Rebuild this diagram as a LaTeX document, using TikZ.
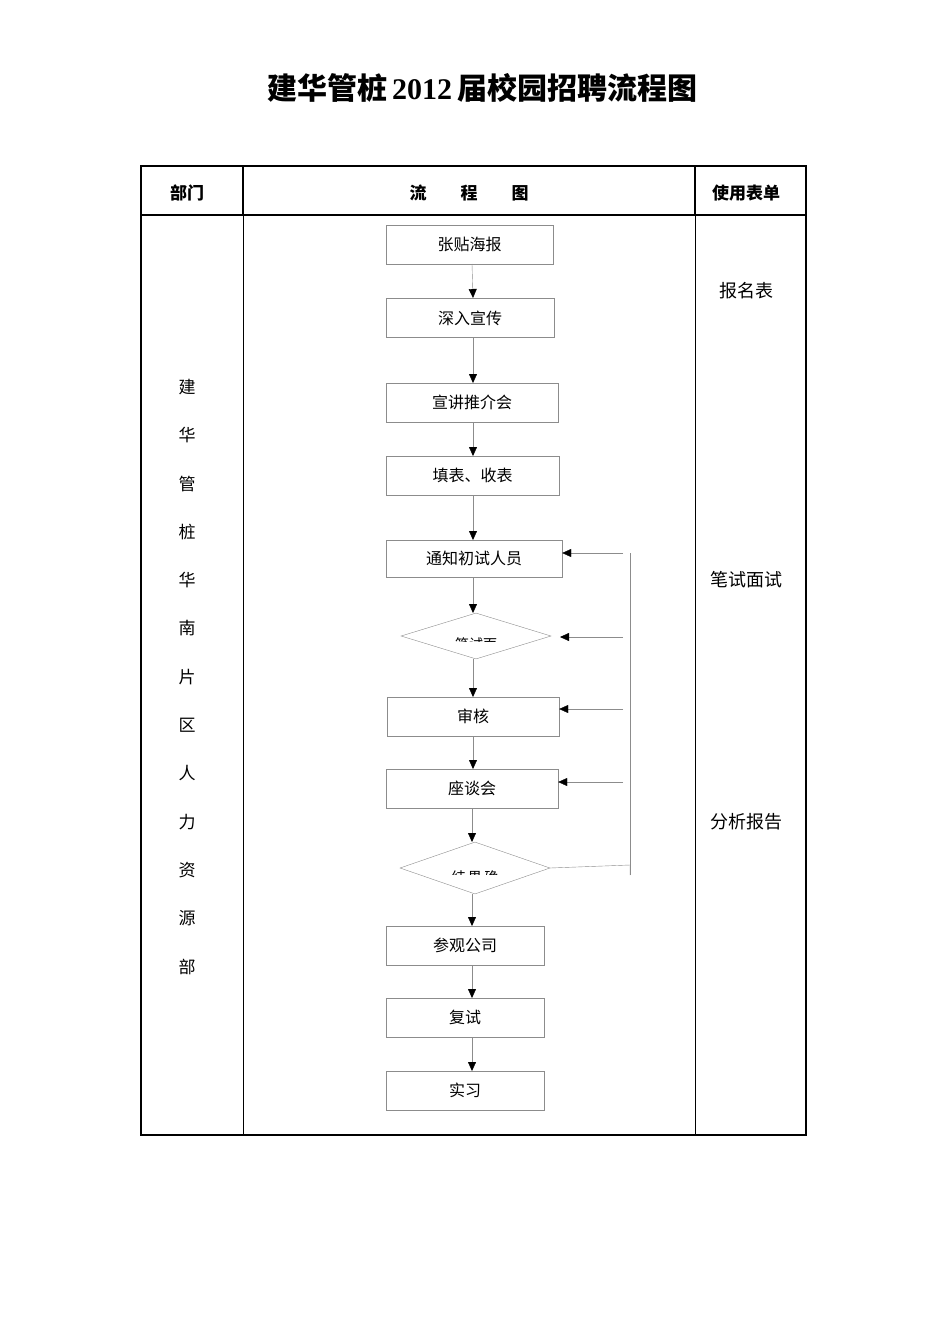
\documentclass[tikz,border=0pt]{standalone}
\usepackage{fontspec}
\setmainfont{Liberation Serif}
\newfontfamily\cjk{Noto Sans CJK SC}
\usetikzlibrary{arrows.meta,positioning,calc,shapes.geometric}

\begin{document}
\begin{tikzpicture}[x=1pt,y=-1pt,font=\cjk\fontsize{16}{18}\selectfont,
  stage/.style={draw=black!45,thin,minimum height=39pt,inner sep=0pt},
  check/.style={draw=black!45,thin,diamond,aspect=3,inner sep=0pt},
  flow/.style={draw=black!45,thin,-{Triangle[black,length=9pt,width=8pt]}},
  frame/.style={line width=1.4pt}]
\useasboundingbox (0,0) rectangle (950,1344);

% title
\node (title) at (482,88) {\fontsize{30}{34}\selectfont\bfseries 建华管桩\,\textrm{\bfseries 2012}\,届校园招聘流程图};

% the table
\draw[frame] (141,166) rectangle (806,1135);
\draw[frame] (141,215) -- (806,215);
\draw[frame] (243,166) -- (243,215);
\draw[frame] (695,166) -- (695,215);
\draw[thin] (243,215) -- (243,1135);
\draw[thin] (695,215) -- (695,1135);
\node (h1) at (187,193) {\fontsize{17}{19}\selectfont\bfseries 部门};
\node (h2) at (469,193) {\fontsize{17}{19}\selectfont\bfseries 流\qquad 程\qquad 图};
\node (h3) at (746,193) {\fontsize{17}{19}\selectfont\bfseries 使用表单};

% department column
\foreach \c [count=\i] in {建,华,管,桩,华,南,片,区,人,力,资,源,部}
  \node at (187,{387+48.3*(\i-1)}) {\fontsize{17}{19}\selectfont\c};

% forms column
\node (f1) at (746,291) {\fontsize{18}{20}\selectfont 报名表};
\node (f2) at (746,580) {\fontsize{18}{20}\selectfont 笔试面试};
\node (f3) at (746,822) {\fontsize{18}{20}\selectfont 分析报告};

% the steps
\node (s1) [stage,minimum width=167pt] at (469.5,244.5) {张贴海报};
\node (s2) [stage,minimum width=168pt] at (470,318) {深入宣传};
\node (s3) [stage,minimum width=172pt] at (472,402.5) {宣讲推介会};
\node (s4) [stage,minimum width=173pt] at (472.5,475.5) {填表、收表};
\node (s5) [stage,minimum width=176pt,minimum height=37pt] at (474,558.5) {通知初试人员};
\node (d1) [check,minimum width=150pt,minimum height=46pt] at (476,636) {};
\node (s6) [stage,minimum width=172pt] at (473,716.5) {审核};
\node (s7) [stage,minimum width=172pt] at (472,788.5) {座谈会};
\node (d2) [check,minimum width=150pt,minimum height=52pt] at (475,868) {};
\node (s8) [stage,minimum width=158pt] at (465,945.5) {参观公司};
\node (s9) [stage,minimum width=158pt] at (465,1017.5) {复试};
\node (s10) [stage,minimum width=158pt] at (465,1090.5) {实习};

% clipped labels in the diamonds
\begin{scope}
  \clip (420,630) rectangle (540,641);
  \node (t1) at (476,644) {\fontsize{14}{16}\selectfont 笔试面};
\end{scope}
\begin{scope}
  \clip (420,862) rectangle (540,874);
  \node (t2) at (475,877) {\fontsize{14}{16}\selectfont 结\,果\,确};
\end{scope}

% main flow
\draw[flow] (472,264) -- (473,298);
\draw[flow] (473,338) -- (473,383);
\draw[flow] (473,422) -- (473,456);
\draw[flow] (473,495) -- (473,540);
\draw[flow] (473,577) -- (473,613);
\draw[flow] (473,659) -- (473,697);
\draw[flow] (473,736) -- (473,769);
\draw[flow] (472,808) -- (472,842);
\draw[flow] (472,894) -- (472,926);
\draw[flow] (472,965) -- (472,998);
\draw[flow] (472,1037) -- (472,1071);

% feedback loop
\coordinate (back) at (630,553);
\draw[draw=black!45,thin] (d2.east) -- (630,865) -- (630,875);
\draw[draw=black!45,thin] (630,875) -- (back);
\draw[flow] (623,553) -- (s5.east |- 0,553);
\draw[flow] (623,637) -- (560,637);
\draw[flow] (623,709) -- (s6.east |- 0,709);
\draw[flow] (623,782) -- (s7.east |- 0,782);
\end{tikzpicture}
\end{document}
